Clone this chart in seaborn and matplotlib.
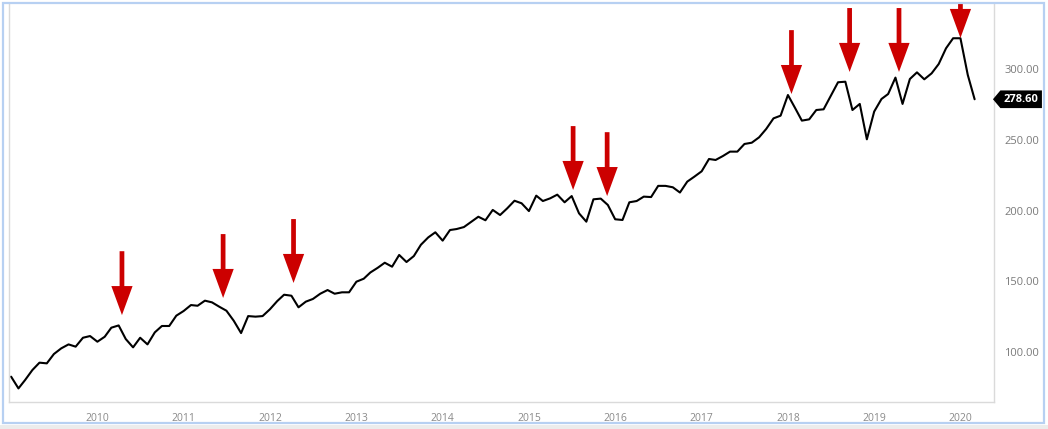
import numpy as np
import pandas as pd
import matplotlib
matplotlib.use("Agg")
import matplotlib.pyplot as plt
import matplotlib.dates as mdates
import matplotlib.transforms as mtransforms
from matplotlib.patches import FancyBboxPatch, Rectangle
from matplotlib.path import Path
import seaborn as sns

# ---------------- data ----------------
start_month = "2009-01-01"
prices = [
    82.6, 74.3, 80.2, 87.3, 92.5, 92.0, 98.6, 102.6, 105.4, 103.8, 110.1, 111.3,
    107.3, 110.8, 117.2, 118.8, 109.2, 103.3, 110.1, 105.4, 113.9, 118.4, 118.4, 125.7,
    129.0, 133.2, 132.7, 136.3, 135.1, 132.0, 129.2, 122.1, 113.4, 125.4, 125.0, 125.4,
    130.2, 136.0, 140.5, 139.8, 131.6, 135.6, 137.5, 141.2, 143.8, 141.2, 142.2, 142.2,
    149.7, 151.8, 156.2, 159.5, 163.1, 160.3, 168.6, 163.6, 167.8, 175.8, 181.0, 184.6,
    178.7, 186.2, 186.9, 188.3, 191.9, 195.6, 193.1, 200.4, 196.8, 201.5, 206.9, 205.1,
    199.6, 210.5, 206.7, 208.6, 211.2, 205.8, 210.2, 198.0, 192.1, 207.9, 208.4, 203.9,
    193.8, 193.3, 205.8, 206.7, 209.8, 209.5, 217.4, 217.4, 216.4, 212.7, 220.4, 223.9,
    227.7, 236.4, 235.7, 238.5, 241.6, 241.6, 247.0, 247.9, 251.7, 257.6, 265.1, 267.0,
    281.6, 272.2, 263.5, 264.4, 271.0, 271.5, 280.9, 290.6, 291.0, 271.0, 275.3, 250.3,
    269.9, 278.8, 282.3, 293.9, 275.3, 292.9, 297.6, 292.7, 296.9, 303.5, 314.6, 321.7,
    321.7, 295.8, 278.6,
]
last_label = "278.60"

arrow_dates = ["2010-04-15", "2011-06-17", "2012-04-10", "2015-07-07", "2015-11-28",
               "2018-01-16", "2018-09-19", "2019-04-16", "2020-01-01"]
arrow_tips = [126.1, 138.2, 148.8, 214.5, 210.2, 282.3, 297.9, 297.9, 321.9]

x_tick_years = [2010, 2011, 2012, 2013, 2014, 2015, 2016, 2017, 2018, 2019, 2020]
y_ticks = [100, 150, 200, 250, 300]

# ---------------- figure ----------------
sns.set_style("white")
plt.rcParams["font.family"] = ["Open Sans", "DejaVu Sans"]

W, H = 1048, 429
fig = plt.figure(figsize=(W / 100, H / 100), dpi=100)
fig.patch.set_facecolor("white")

ax = fig.add_axes([9 / W, 27 / H, 985 / W, 398 / H])

dates = pd.date_range(start_month, periods=len(prices), freq="MS")
df = pd.DataFrame({"date": dates, "price": prices})
sns.lineplot(data=df, x="date", y="price", ax=ax, color="black", linewidth=1.5)

ax.set_xlim(pd.Timestamp("2008-12-23"), pd.Timestamp("2020-05-22"))
ax.set_ylim(64.7, 345.9)
ax.set_xlabel("")
ax.set_ylabel("")

ax.set_xticks([mdates.date2num(pd.Timestamp(f"{y}-01-01")) for y in x_tick_years])
ax.set_xticklabels([str(y) for y in x_tick_years])
ax.yaxis.tick_right()
ax.set_yticks(y_ticks)
ax.set_yticklabels([f"{v:.2f}" for v in y_ticks])

ax.tick_params(axis="x", length=3, width=1, color="#d6d6d6", pad=5,
               labelsize=7.5, labelcolor="#8a8a8a")
ax.tick_params(axis="y", length=0, pad=7.5, labelsize=8, labelcolor="#7a7a7a")

for side in ["left", "bottom", "right"]:
    ax.spines[side].set_color("#dadada")
    ax.spines[side].set_linewidth(1)
ax.spines["top"].set_visible(False)
ax.grid(False)

# red arrows
for d, v in zip(arrow_dates, arrow_tips):
    ann = ax.annotate(
        "", xy=(mdates.date2num(pd.Timestamp(d)), v), xytext=(0, 46),
        textcoords="offset points", annotation_clip=False,
        arrowprops=dict(arrowstyle="simple,head_length=2.09,head_width=1.53,tail_width=0.34",
                        mutation_scale=10, fc="#cc0000", ec="none", lw=0,
                        shrinkA=0, shrinkB=0),
    )
    ann.arrow_patch.set_clip_box(ax.bbox)
    ann.arrow_patch.set_clip_on(True)


# price tag
def tag_style(x0, y0, width, height, mutation_size):
    pad = 0.3 * mutation_size
    x0, y0 = x0 - pad, y0 - pad
    w, h = width + 2 * pad, height + 2 * pad
    x1, y1 = x0 + w, y0 + h
    tip = h * 0.42
    return Path([(x0 - tip, y0 + h / 2), (x0, y1), (x1, y1), (x1, y0), (x0, y0),
                 (x0 - tip, y0 + h / 2)], closed=True)


blend = mtransforms.blended_transform_factory(ax.transAxes, ax.transData)
ax.annotate(last_label, xy=(1, prices[-1]), xycoords=blend, xytext=(7, 0),
            textcoords="offset points", ha="left", va="center", color="white",
            fontweight="bold", fontsize=8, annotation_clip=False,
            bbox=dict(boxstyle=tag_style, fc="black", ec="none"))

# outer light-blue frame
fig.patches.append(Rectangle((0, 0), 1, 4 / H, transform=fig.transFigure,
                             fc="#ececec", ec="none", zorder=0))
fig.patches.append(FancyBboxPatch((3 / W, 6 / H), 1041 / W, 420 / H,
                                  boxstyle="square,pad=0", transform=fig.transFigure,
                                  fill=False, ec="#b7d0f2", lw=1.6, zorder=5))

fig.savefig("out.png", dpi=100)
